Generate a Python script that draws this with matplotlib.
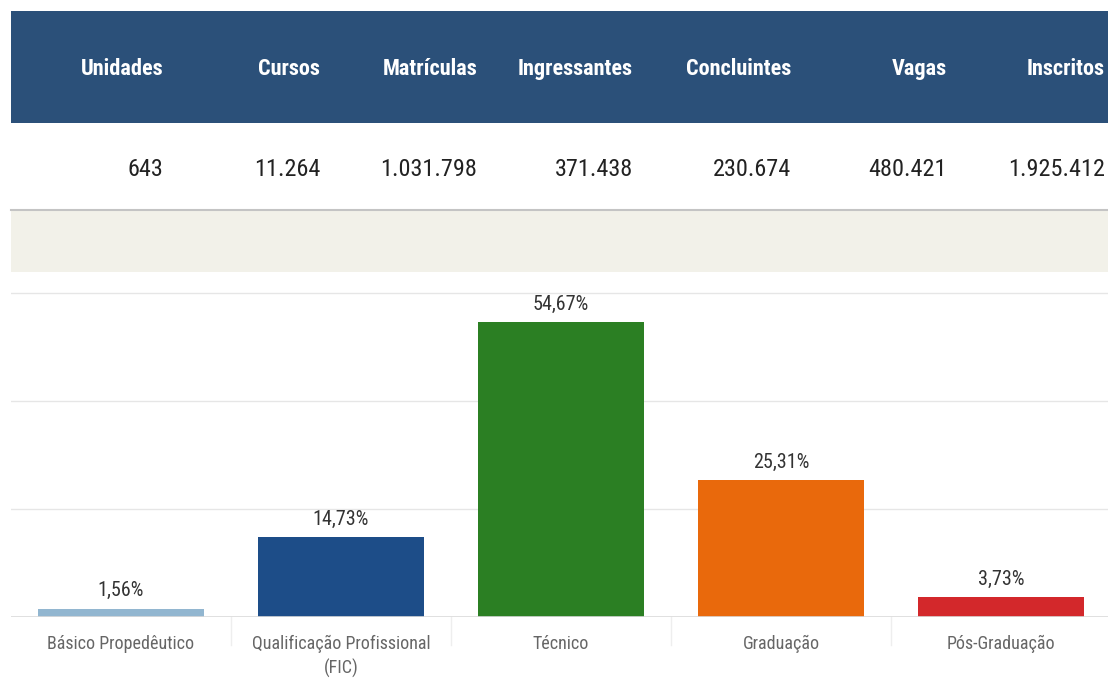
import matplotlib
matplotlib.use("Agg")
import matplotlib.pyplot as plt
from matplotlib.patches import Rectangle
from matplotlib.lines import Line2D
import matplotlib.transforms as mtransforms

# ---- data ----
header_labels = ["Unidades", "Cursos", "Matrículas", "Ingressantes", "Concluintes", "Vagas", "Inscritos"]
header_values = ["643", "11.264", "1.031.798", "371.438", "230.674", "480.421", "1.925.412"]
categories = ["Básico Propedêutico", "Qualificação Profissional\n(FIC)", "Técnico", "Graduação", "Pós-Graduação"]
percentages = [1.56, 14.73, 54.67, 25.31, 3.73]
bar_colors = ["#92b6d0", "#1d4d88", "#2b7f23", "#e9690c", "#d3282b"]

plt.rcParams['font.family'] = ['Roboto Condensed', 'Open Sans Condensed', 'Noto Sans Condensed',
                               'Liberation Sans Narrow', 'Lato', 'DejaVu Sans']

W, H = 1108, 689
fig = plt.figure(figsize=(W / 100, H / 100), dpi=100)
fig.patch.set_facecolor("white")


def fx(px):
    return px / W


def fy(py):
    return 1 - py / H


# header band
fig.patches.append(Rectangle((fx(11), fy(123)), fx(W - 11), (123 - 11) / H,
                             transform=fig.transFigure, facecolor="#2b5079",
                             edgecolor="none", zorder=0))
# separator line under values row
fig.lines.append(Line2D([fx(11), fx(W)], [fy(210), fy(210)], transform=fig.transFigure,
                        color="#c4c4c4", lw=1.5))
# beige band
fig.patches.append(Rectangle((fx(11), fy(272)), fx(W - 11), (272 - 211) / H,
                             transform=fig.transFigure, facecolor="#f2f1e9",
                             edgecolor="none", zorder=0))

right_edges = [163, 320, 477, 633, 791, 947, 1105]
for lab, val, xr in zip(header_labels, header_values, right_edges):
    fig.text(fx(xr), fy(69), lab, ha="right", va="center", color="white",
             fontsize=16, fontweight="bold")
    fig.text(fx(xr), fy(169), val, ha="right", va="center", color="#222222",
             fontsize=17.5)

# ---- bar chart ----
ax_left, ax_right = 11, W
ax_top, ax_bottom = 285, 617
ax = fig.add_axes([fx(ax_left), 1 - ax_bottom / H, fx(ax_right - ax_left), (ax_bottom - ax_top) / H])
ax.set_facecolor("white")

x = list(range(len(categories)))
bars = ax.bar(x, percentages, width=0.755, color=bar_colors, zorder=3)

ax.set_xlim(-0.5, -0.5 + (ax_right - ax_left) / 220)
ax.set_ylim(0, 61.5)
ax.set_yticks([20, 40, 60])
ax.yaxis.grid(True, color="#e6e6e6", lw=1, zorder=0)
ax.tick_params(axis="y", length=0, labelleft=False)
ax.axhline(0, color="#dadada", lw=1.2, zorder=4)

ax.set_xticks(x)
ax.set_xticklabels(categories, fontsize=13, color="#666666", linespacing=1.4)
ax.tick_params(axis="x", length=0, pad=13)

for s in ax.spines.values():
    s.set_visible(False)

for xi, p in zip(x, percentages):
    ax.annotate(f"{p:.2f}".replace(".", ",") + "%", (xi, p), xytext=(0, 6),
                textcoords="offset points", ha="center", va="bottom",
                fontsize=14.5, color="#333333")

# faint column dividers below the baseline
trans = mtransforms.blended_transform_factory(ax.transData, ax.transAxes)
for i in range(len(categories) - 1):
    ax.plot([i + 0.5, i + 0.5], [0, -28 / (ax_bottom - ax_top)], transform=trans,
            color="#eeeeee", lw=1, clip_on=False)

fig.savefig("out.png", dpi=100, facecolor="white")
